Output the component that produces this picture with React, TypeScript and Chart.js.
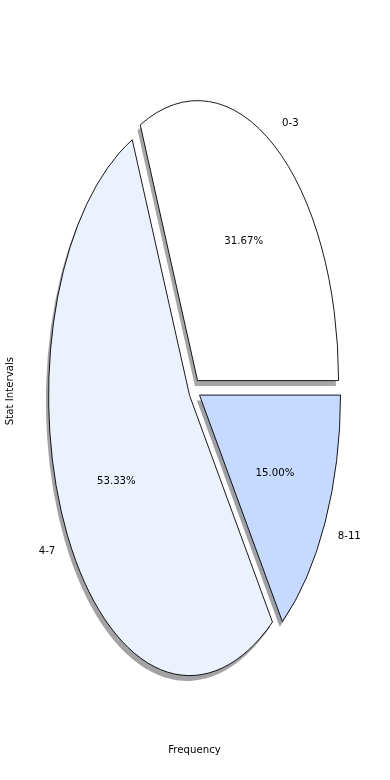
import React, { useEffect, useRef } from 'react';
import { Chart, registerables } from 'chart.js';

Chart.register(...registerables);

// ---- data ----
const categories = ['0-3', '4-7', '8-11'];
const frequencies = [19, 32, 9];
const explodeFractions = [0.04, 0.04, 0.04];
const sliceColors = ['#ffffff', '#ebf1fd', '#c6d9ff'];
const xAxisTitle = 'Frequency';
const yAxisTitle = 'Stat Intervals';

// ---- geometry / style ----
const RX = 141; // horizontal radius (px)
const RY = 280; // vertical radius (px)
const SY = RY / RX;
const LABEL_DIST = 1.1;
const PCT_DIST = 0.6;
const SHADOW_OFF = 0.019; // in data units
const TEXT_DY = 1.5;
const FONT = '10.2px "DejaVu Sans", sans-serif';

function shadowColor(hex: string): string {
  const h = hex.replace('#', '');
  const r = parseInt(h.slice(0, 2), 16);
  const g = parseInt(h.slice(2, 4), 16);
  const b = parseInt(h.slice(4, 6), 16);
  return `rgba(${Math.round(r * 0.3)},${Math.round(g * 0.3)},${Math.round(b * 0.3)},0.5)`;
}

const n = categories.length;
// Chart.js draws clockwise, matplotlib counter-clockwise: reverse order.
const revLabels = [...categories].reverse();
const revValues = [...frequencies].reverse();
const revColors = [...sliceColors].reverse();

const mplPiePlugin = {
  id: 'mplPie',
  beforeDatasetsDraw(chart: any) {
    const ctx = chart.ctx as CanvasRenderingContext2D;
    const arcs = chart.getDatasetMeta(0).data;
    const origStroke = ctx.stroke;
    (ctx as any).stroke = function (...args: any[]) {
      this.save();
      this.setTransform(1, 0, 0, 1, 0, 0);
      origStroke.apply(this, args);
      this.restore();
    };
    const drawOne = (j: number, shadow: boolean) => {
      const arc = arcs[j];
      const idx = n - 1 - j;
      const p = arc.getProps(['x', 'y', 'startAngle', 'endAngle', 'outerRadius'], true);
      const mid = (p.startAngle + p.endAngle) / 2;
      const ex = explodeFractions[idx] * p.outerRadius;
      ctx.save();
      if (shadow) ctx.translate(-SHADOW_OFF * RX, SHADOW_OFF * RY);
      ctx.translate(p.x, p.y);
      ctx.scale(1, SY);
      ctx.translate(-p.x, -p.y);
      ctx.translate(Math.cos(mid) * ex, Math.sin(mid) * ex);
      if (shadow) {
        const saved = arc.options;
        const sc = shadowColor(sliceColors[idx]);
        arc.options = { ...saved, backgroundColor: sc, borderColor: sc, borderWidth: 0 };
        arc.draw(ctx, chart.chartArea);
        arc.options = saved;
      } else {
        arc.draw(ctx, chart.chartArea);
      }
      ctx.restore();
    };
    for (let j = n - 1; j >= 0; j--) drawOne(j, true);
    for (let j = n - 1; j >= 0; j--) drawOne(j, false);
    delete (ctx as any).stroke;
    return false;
  },
  afterDraw(chart: any) {
    const ctx = chart.ctx as CanvasRenderingContext2D;
    const arcs = chart.getDatasetMeta(0).data;
    const data = chart.data.datasets[0].data as number[];
    const total = data.reduce((a, b) => a + b, 0);
    ctx.save();
    ctx.font = FONT;
    ctx.fillStyle = '#000000';
    ctx.textBaseline = 'middle';
    for (let j = 0; j < arcs.length; j++) {
      const idx = n - 1 - j;
      const p = arcs[j].getProps(['x', 'y', 'startAngle', 'endAngle', 'outerRadius'], true);
      const mid = (p.startAngle + p.endAngle) / 2;
      const R = p.outerRadius;
      const ex = explodeFractions[idx] * R;
      const cx = p.x + Math.cos(mid) * ex;
      const cy = p.y + Math.sin(mid) * ex * SY;
      const lx = cx + Math.cos(mid) * R * LABEL_DIST;
      const ly = cy + Math.sin(mid) * R * LABEL_DIST * SY;
      ctx.textAlign = Math.cos(mid) > 0 ? 'left' : 'right';
      ctx.fillText(chart.data.labels[j], lx, ly + TEXT_DY);
      const px = cx + Math.cos(mid) * R * PCT_DIST;
      const py = cy + Math.sin(mid) * R * PCT_DIST * SY;
      ctx.textAlign = 'center';
      ctx.fillText(((data[j] / total) * 100).toFixed(2) + '%', px, py + TEXT_DY);
    }
    // axis titles
    const ca = chart.chartArea;
    const midX = (ca.left + ca.right) / 2;
    ctx.textAlign = 'center';
    ctx.fillText(xAxisTitle, midX, 750);
    ctx.save();
    ctx.translate(10.5, (ca.top + ca.bottom) / 2 + 1);
    ctx.rotate(-Math.PI / 2);
    ctx.fillText(yAxisTitle, 0, 0);
    ctx.restore();
    ctx.restore();
  },
};

export default function App() {
  const ref = useRef<HTMLCanvasElement | null>(null);
  useEffect(() => {
    if (!ref.current) return;
    const chart = new Chart(ref.current, {
      type: 'pie',
      data: {
        labels: revLabels,
        datasets: [
          {
            data: revValues,
            backgroundColor: revColors,
            borderColor: '#000000',
            borderWidth: 0.9,
          },
        ],
      },
      options: {
        responsive: false,
        animation: false,
        devicePixelRatio: 1,
        events: [],
        rotation: 90,
        radius: RX,
        layout: { padding: { left: 0, right: 1, top: 0, bottom: 0 } },
        plugins: { legend: { display: false }, tooltip: { enabled: false } },
      } as any,
      plugins: [mplPiePlugin as any],
    });
    return () => chart.destroy();
  }, []);
  return (
    <div style={{ position: 'fixed', left: 0, top: 0, width: 390, height: 780, background: '#ffffff' }}>
      <canvas ref={ref} width={390} height={780} style={{ display: 'block' }} />
    </div>
  );
}
